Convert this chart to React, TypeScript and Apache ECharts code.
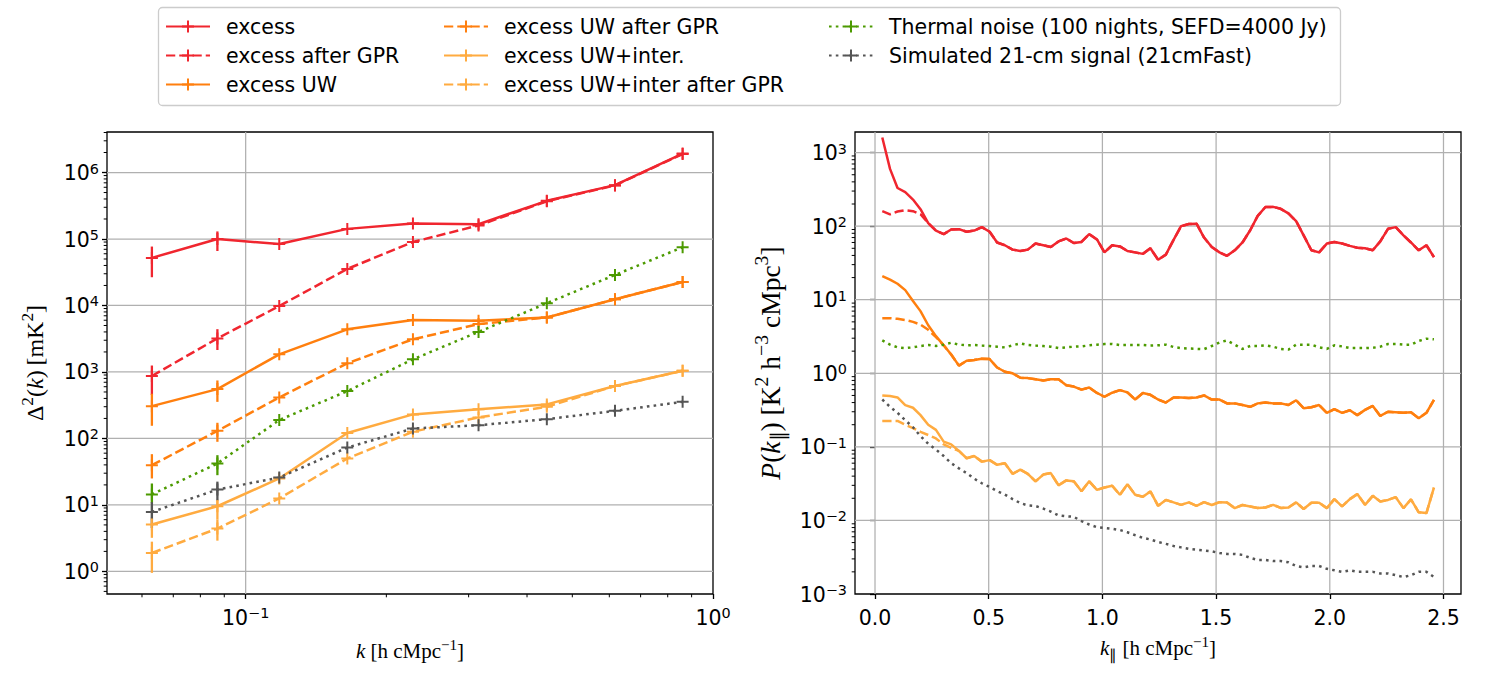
import { useEffect, useRef } from 'react';
import * as echarts from 'echarts';

// ---------- Left panel: spherically averaged Δ²(k) [mK²] ----------
const kBins = [0.063, 0.087, 0.118, 0.165, 0.228, 0.315, 0.441, 0.617, 0.861];

const deltaExcess = [52000, 100000, 84000, 142000, 171000, 167000, 375000, 646000, 1930000];
const deltaExcessGPR = [870, 3200, 9800, 35500, 90000, 160000, 370000, 640000, 1900000];
const deltaExcessUW = [306, 552, 1840, 4380, 6050, 5900, 6600, 12400, 22600];
const deltaExcessUWGPR = [39.6, 130, 414, 1350, 3100, 5260, 6600, 12400, 22600];
const deltaUWInter = [5.07, 9.55, 25, 121, 230, 274, 325, 614, 1040];
const deltaUWInterGPR = [1.89, 4.4, 12.5, 50, 126, 207, 300, 614, 1040];
const deltaThermal = [14.4, 42, 189, 515, 1550, 4000, 10800, 28800, 75000];
const delta21cm = [7.85, 17, 25.8, 73, 141, 158, 195, 260, 355];

// 1σ bounds (null where the bar hides behind the marker)
const N7 = [null, null, null, null, null, null, null];
const loExcess = [26600, 66000, ...N7];
const hiExcess = [77000, 130000, ...N7];
const loExcessGPR = [450, 2140, ...N7];
const hiExcessGPR = [1250, 4400, ...N7];
const loExcessUW = [155, 355, ...N7];
const hiExcessUW = [470, 745, ...N7];
const loExcessUWGPR = [25, 89, ...N7];
const hiExcessUWGPR = [58, 172, ...N7];
const loUWInter = [3.2, 6, ...N7];
const hiUWInter = [6.5, 12, ...N7];
const loUWInterGPR = [0.95, 2.9, ...N7];
const hiUWInterGPR = [2.8, 6, ...N7];
const loThermal = [10.5, 28, ...N7];
const hiThermal = [21, 56, ...N7];
const lo21cm = [4.5, 11.7, ...N7];
const hi21cm = [11, 22.4, ...N7];

// ---------- Right panel: P(k∥) [K² h⁻³ cMpc³] ----------
const kPar = [
  0.032, 0.066, 0.099, 0.133, 0.167, 0.2, 0.234, 0.268, 0.302, 0.335,
  0.369, 0.403, 0.436, 0.47, 0.504, 0.537, 0.571, 0.605, 0.639, 0.672,
  0.706, 0.74, 0.773, 0.807, 0.841, 0.874, 0.908, 0.942, 0.976, 1.009,
  1.043, 1.077, 1.11, 1.144, 1.178, 1.211, 1.245, 1.279, 1.313, 1.346,
  1.38, 1.414, 1.447, 1.481, 1.515, 1.548, 1.582, 1.616, 1.65, 1.683,
  1.717, 1.751, 1.784, 1.818, 1.852, 1.885, 1.919, 1.953, 1.987, 2.02,
  2.054, 2.088, 2.121, 2.155, 2.189, 2.222, 2.256, 2.29, 2.324, 2.357,
  2.391, 2.425, 2.458,
];

const pExcess = [
  1600, 600, 330, 290, 230, 170, 110, 87, 78, 90,
  91, 84, 87, 97, 84, 60, 55, 48, 46, 48,
  58, 55, 52, 62, 68, 59, 61, 78, 66, 44,
  55, 53, 46, 44, 42, 50, 35, 41, 65, 100,
  107, 108, 70, 52, 44, 39.5, 47, 60, 88, 138,
  182, 183, 172, 149, 117, 75, 47, 44, 58, 61,
  58, 54, 51, 50, 47, 62, 92, 97, 75, 60,
  47, 55, 38,
];
// after GPR the curve differs only at the lowest k
const pExcessGPRLow = [160, 145, 158, 165, 160, 145, 110];
const pExcessGPR = [...pExcessGPRLow, ...pExcess.slice(pExcessGPRLow.length)];

const pExcessUW = [
  21, 18.8, 16.5, 13.5, 9.6, 7.0, 4.5, 3.2, 2.4, 1.8,
  1.27, 1.48, 1.52, 1.58, 1.56, 1.2, 1.05, 1.0, 0.87, 0.86,
  0.83, 0.8, 0.83, 0.83, 0.69, 0.66, 0.6, 0.64, 0.54, 0.48,
  0.545, 0.59, 0.55, 0.44, 0.54, 0.51, 0.44, 0.4, 0.47, 0.47,
  0.46, 0.47, 0.5, 0.44, 0.44, 0.39, 0.39, 0.37, 0.35, 0.39,
  0.4, 0.39, 0.39, 0.37, 0.43, 0.335, 0.345, 0.37, 0.29, 0.325,
  0.29, 0.315, 0.27, 0.318, 0.36, 0.263, 0.3, 0.295, 0.29, 0.295,
  0.245, 0.29, 0.435,
];
const pExcessUWGPRLow = [5.6, 5.6, 5.5, 5.3, 5.0, 4.6, 3.9, 3.1];
const pExcessUWGPR = [...pExcessUWGPRLow, ...pExcessUW.slice(pExcessUWGPRLow.length)];

const pUWInter = [
  0.5, 0.49, 0.47, 0.37, 0.34, 0.27, 0.2, 0.17, 0.118, 0.108,
  0.088, 0.07, 0.075, 0.063, 0.066, 0.057, 0.06, 0.043, 0.049, 0.043,
  0.034, 0.042, 0.044, 0.03, 0.035, 0.034, 0.025, 0.034, 0.026, 0.028,
  0.0296, 0.0223, 0.031, 0.0223, 0.021, 0.0248, 0.0158, 0.019, 0.0176, 0.0163,
  0.0176, 0.0158, 0.0177, 0.0162, 0.0177, 0.0175, 0.0147, 0.0162, 0.0155, 0.0148,
  0.015, 0.0163, 0.0148, 0.015, 0.0176, 0.0143, 0.0174, 0.0174, 0.0147, 0.0195,
  0.0155, 0.0195, 0.0228, 0.0163, 0.0216, 0.0181, 0.019, 0.0207, 0.0147, 0.0193,
  0.0129, 0.0126, 0.028,
];
const pUWInterGPRLow = [0.225, 0.225, 0.225, 0.2, 0.18, 0.16, 0.145, 0.13, 0.108, 0.097];
const pUWInterGPR = [...pUWInterGPRLow, ...pUWInter.slice(pUWInterGPRLow.length)];

const pThermal = [
  2.8, 2.45, 2.25, 2.2, 2.25, 2.35, 2.42, 2.35, 2.45, 2.6,
  2.45, 2.4, 2.42, 2.38, 2.35, 2.3, 2.25, 2.4, 2.55, 2.42,
  2.38, 2.35, 2.3, 2.2, 2.25, 2.3, 2.32, 2.4, 2.45, 2.5,
  2.5, 2.42, 2.42, 2.42, 2.42, 2.38, 2.4, 2.45, 2.28, 2.2,
  2.17, 2.15, 2.13, 2.35, 2.63, 2.8, 2.45, 2.14, 2.35, 2.35,
  2.4, 2.3, 2.14, 2.1, 2.45, 2.45, 2.45, 2.25, 2.14, 2.4,
  2.32, 2.2, 2.2, 2.2, 2.22, 2.3, 2.5, 2.5, 2.45, 2.45,
  2.75, 2.95, 2.9,
];

const p21cm = [
  0.44, 0.35, 0.29, 0.23, 0.185, 0.14, 0.11, 0.092, 0.075, 0.06,
  0.051, 0.044, 0.037, 0.032, 0.0285, 0.025, 0.0225, 0.0195, 0.0172, 0.016,
  0.0157, 0.0145, 0.0132, 0.0117, 0.0114, 0.0112, 0.0098, 0.0088, 0.0081, 0.0079,
  0.0077, 0.0074, 0.0069, 0.0063, 0.0058, 0.0055, 0.0051, 0.0048, 0.0045, 0.0043,
  0.0041, 0.004, 0.0039, 0.0038, 0.0036, 0.0035, 0.0035, 0.0034, 0.0031, 0.0029,
  0.0029, 0.0028, 0.0028, 0.0027, 0.0024, 0.0023, 0.0024, 0.0024, 0.0022, 0.0021,
  0.002, 0.0021, 0.002, 0.002, 0.002, 0.0019, 0.0019, 0.0018, 0.0017, 0.0018,
  0.002, 0.002, 0.0017,
];

// ---------- axis ticks ----------
const leftXMajor = [0.1, 1];
const leftYMajor = [1, 10, 100, 1e3, 1e4, 1e5, 1e6];
const rightXMajor = [0, 0.5, 1, 1.5, 2, 2.5];
const rightYMajor = [1e-3, 1e-2, 1e-1, 1, 10, 100, 1e3];

const LEFT_X = [0.0505, 1];
const LEFT_Y = [0.457, 4.07e6];
const RIGHT_X = [-0.088, 2.577];
const RIGHT_Y = [1e-3, 1905];

// minor ticks at 2..9 × 10^n inside an axis range
function logMinors(lo: number, hi: number) {
  const out: number[] = [];
  for (let n = Math.floor(Math.log10(lo)); n <= Math.ceil(Math.log10(hi)); n++) {
    for (let m = 2; m <= 9; m++) {
      const v = m * Math.pow(10, n);
      if (v > lo && v < hi) out.push(v);
    }
  }
  return out;
}

// ---------- styles ----------
const RED = '#f0262f';
const ORANGE = '#ff7f0e';
const LIGHT_ORANGE = '#ffab40';
const GREEN = '#4c9a00';
const GREY = '#555555';
const SOLID = 'solid';
const DASHED = [9.25, 4];
const DOTTED = [2.6, 4.2];
const PLUS = 'path://M-1,-6L1,-6L1,-1L6,-1L6,1L1,1L1,6L-1,6L-1,1L-6,1L-6,-1L-1,-1Z';

const NAMES = {
  excess: 'excess',
  excessGPR: 'excess after GPR',
  uw: 'excess UW',
  uwGPR: 'excess UW after GPR',
  uwInter: 'excess UW+inter.',
  uwInterGPR: 'excess UW+inter after GPR',
  thermal: 'Thermal noise (100 nights, SEFD=4000 Jy)',
  sig: 'Simulated 21-cm signal (21cmFast)',
};

const leftDefs = [
  { name: NAMES.excess, color: RED, dash: SOLID, values: deltaExcess, lo: loExcess, hi: hiExcess },
  { name: NAMES.excessGPR, color: RED, dash: DASHED, values: deltaExcessGPR, lo: loExcessGPR, hi: hiExcessGPR },
  { name: NAMES.uw, color: ORANGE, dash: SOLID, values: deltaExcessUW, lo: loExcessUW, hi: hiExcessUW },
  { name: NAMES.uwGPR, color: ORANGE, dash: DASHED, values: deltaExcessUWGPR, lo: loExcessUWGPR, hi: hiExcessUWGPR },
  { name: NAMES.uwInter, color: LIGHT_ORANGE, dash: SOLID, values: deltaUWInter, lo: loUWInter, hi: hiUWInter },
  { name: NAMES.uwInterGPR, color: LIGHT_ORANGE, dash: DASHED, values: deltaUWInterGPR, lo: loUWInterGPR, hi: hiUWInterGPR },
  { name: NAMES.thermal, color: GREEN, dash: DOTTED, values: deltaThermal, lo: loThermal, hi: hiThermal },
  { name: NAMES.sig, color: GREY, dash: DOTTED, values: delta21cm, lo: lo21cm, hi: hi21cm },
];

const rightDefs = [
  { name: NAMES.excess, color: RED, dash: SOLID, values: pExcess },
  { name: NAMES.excessGPR, color: RED, dash: DASHED, values: pExcessGPR },
  { name: NAMES.uw, color: ORANGE, dash: SOLID, values: pExcessUW },
  { name: NAMES.uwGPR, color: ORANGE, dash: DASHED, values: pExcessUWGPR },
  { name: NAMES.uwInter, color: LIGHT_ORANGE, dash: SOLID, values: pUWInter },
  { name: NAMES.uwInterGPR, color: LIGHT_ORANGE, dash: DASHED, values: pUWInterGPR },
  { name: NAMES.thermal, color: GREEN, dash: DOTTED, values: pThermal },
  { name: NAMES.sig, color: GREY, dash: DOTTED, values: p21cm },
];

const SANS = 'DejaVu Sans';
const SERIF = 'Liberation Serif';
const TICK_FONT = 20.5;

const tickRich = {
  b: { fontFamily: SANS, fontSize: TICK_FONT, color: '#000', verticalAlign: 'bottom' },
  s: { fontFamily: SANS, fontSize: 14.4, color: '#000', verticalAlign: 'bottom', padding: [0, 0, 8, 0] },
};

function mathRich(size: number) {
  const sub = Math.round(size * 0.72 * 10) / 10;
  const base = { fontFamily: SERIF, color: '#000', verticalAlign: 'bottom' };
  return {
    r: { ...base, fontSize: size, padding: [0, 0, 4, 0] },
    i: { ...base, fontSize: size, fontStyle: 'italic', padding: [0, 0, 4, 0] },
    sup: { ...base, fontSize: sub, padding: [0, 0, Math.round(size * 0.62), 0] },
    sub: { ...base, fontSize: sub, padding: [0, 0, 0, 0] },
  };
}

const MINUS = '\u2212';
const pow10Label = (v: number) => {
  const e = Math.round(Math.log10(v));
  return `{b|10}{s|${e < 0 ? MINUS + -e : e}}`;
};

const GRID_LINE = { stroke: '#b0b0b0', lineWidth: 1.25 };
const MINOR_TICK = { stroke: '#000', lineWidth: 1 };

// grid lines (kind 0: vertical, 1: horizontal) and minor ticks (kind 2: bottom, 3: left)
function frameSeries(
  idx: number,
  xGrid: number[],
  yGrid: number[],
  xMinor: number[],
  yMinor: number[],
  xRef: number,
  yRef: number,
) {
  const rows: number[][] = [];
  xGrid.forEach((v) => rows.push([v, yRef, 0]));
  yGrid.forEach((v) => rows.push([xRef, v, 1]));
  xMinor.forEach((v) => rows.push([v, yRef, 2]));
  yMinor.forEach((v) => rows.push([xRef, v, 3]));
  return {
    type: 'custom',
    name: `axes-${idx}`,
    xAxisIndex: idx,
    yAxisIndex: idx,
    silent: true,
    data: rows,
    encode: { x: 0, y: 1 },
    renderItem: (params: any, api: any) => {
      const cs = params.coordSys;
      const kind = api.value(2);
      const p = api.coord([api.value(0), api.value(1)]);
      const bottom = cs.y + cs.height;
      if (kind === 0) {
        return { type: 'line', shape: { x1: p[0], y1: cs.y, x2: p[0], y2: bottom }, style: GRID_LINE };
      }
      if (kind === 1) {
        return { type: 'line', shape: { x1: cs.x, y1: p[1], x2: cs.x + cs.width, y2: p[1] }, style: GRID_LINE };
      }
      if (kind === 2) {
        return { type: 'line', shape: { x1: p[0], y1: bottom, x2: p[0], y2: bottom + 3.3 }, style: MINOR_TICK };
      }
      return { type: 'line', shape: { x1: cs.x - 3.3, y1: p[1], x2: cs.x, y2: p[1] }, style: MINOR_TICK };
    },
  };
}

function errorBars(def: any) {
  const rows: number[][] = [];
  kBins.forEach((k, i) => {
    if (def.lo[i] != null) rows.push([k, def.lo[i], def.hi[i]]);
  });
  return {
    type: 'custom',
    name: `${def.name} σ`,
    xAxisIndex: 0,
    yAxisIndex: 0,
    silent: true,
    data: rows,
    encode: { x: 0, y: [1, 2] },
    renderItem: (_params: any, api: any) => {
      const a = api.coord([api.value(0), api.value(1)]);
      const b = api.coord([api.value(0), api.value(2)]);
      return {
        type: 'line',
        shape: { x1: a[0], y1: a[1], x2: b[0], y2: b[1] },
        style: { stroke: def.color, lineWidth: 2.3 },
      };
    },
  };
}

function buildOption() {
  const series: any[] = [
    frameSeries(0, [0.1], leftYMajor, logMinors(LEFT_X[0], LEFT_X[1]), logMinors(LEFT_Y[0], LEFT_Y[1]), 0.1, 1),
    frameSeries(1, rightXMajor, rightYMajor.slice(1), [], logMinors(RIGHT_Y[0], RIGHT_Y[1]), 1, 1),
  ];

  leftDefs.forEach((def) => {
    series.push(errorBars(def));
    series.push({
      type: 'line',
      name: def.name,
      xAxisIndex: 0,
      yAxisIndex: 0,
      data: kBins.map((k, i) => [k, def.values[i]]),
      symbol: PLUS,
      symbolSize: 12,
      showSymbol: true,
      lineStyle: { color: def.color, width: 2.5, type: def.dash },
      itemStyle: { color: def.color },
      emphasis: { disabled: true },
      silent: true,
      clip: true,
    });
  });

  rightDefs.forEach((def) => {
    series.push({
      type: 'line',
      name: def.name,
      xAxisIndex: 1,
      yAxisIndex: 1,
      data: kPar.map((k, i) => [k, def.values[i]]),
      symbol: 'none',
      showSymbol: false,
      lineStyle: { color: def.color, width: 2.5, type: def.dash },
      itemStyle: { color: def.color },
      emphasis: { disabled: true },
      silent: true,
      clip: true,
    });
  });

  const majorTick = (values: number[]) => ({
    show: true,
    length: 5,
    customValues: values,
    lineStyle: { color: '#000', width: 1.3 },
  });

  const legendBase = {
    orient: 'vertical',
    align: 'left',
    top: 16,
    padding: 0,
    itemWidth: 44,
    itemHeight: 15,
    itemGap: 8,
    selectedMode: false,
    textStyle: { fontFamily: SANS, fontSize: 20.5, color: '#000', lineHeight: 18, padding: [0, 0, 0, 11] },
    z: 5,
  };

  return {
    animation: false,
    backgroundColor: '#ffffff',
    graphic: [
      {
        type: 'rect',
        z: 1,
        silent: true,
        shape: { x: 158.5, y: 7.5, width: 1182, height: 98, r: 4 },
        style: { fill: 'rgba(255,255,255,0.8)', stroke: '#cccccc', lineWidth: 1.3 },
      },
    ],
    legend: [
      { ...legendBase, left: 165, data: [NAMES.excess, NAMES.excessGPR, NAMES.uw] },
      { ...legendBase, left: 443, data: [NAMES.uwGPR, NAMES.uwInter, NAMES.uwInterGPR] },
      { ...legendBase, left: 828, data: [NAMES.thermal, NAMES.sig] },
    ],
    grid: [
      { left: 107, top: 132, width: 606, height: 462, show: true, borderColor: '#000', borderWidth: 1.3, containLabel: false },
      { left: 855, top: 132, width: 606, height: 462, show: true, borderColor: '#000', borderWidth: 1.3, containLabel: false },
    ],
    xAxis: [
      {
        type: 'log',
        logBase: 10,
        gridIndex: 0,
        min: LEFT_X[0],
        max: LEFT_X[1],
        axisLine: { show: false },
        axisTick: majorTick(leftXMajor),
        axisLabel: { customValues: leftXMajor, formatter: pow10Label, rich: tickRich, margin: 12 },
        splitLine: { show: false },
        name: `{i|k}{r| [h cMpc}{sup|${MINUS}1}{r|]}`,
        nameLocation: 'middle',
        nameGap: 43,
        nameTextStyle: { rich: mathRich(21) },
      },
      {
        type: 'value',
        gridIndex: 1,
        min: RIGHT_X[0],
        max: RIGHT_X[1],
        axisLine: { show: false },
        axisTick: majorTick(rightXMajor),
        axisLabel: {
          customValues: rightXMajor,
          formatter: (v: number) => v.toFixed(1),
          fontFamily: SANS,
          fontSize: TICK_FONT,
          color: '#000',
          margin: 13,
        },
        splitLine: { show: false },
        name: `{i|k}{sub|\u2225}{r| [h cMpc}{sup|${MINUS}1}{r|]}`,
        nameLocation: 'middle',
        nameGap: 40,
        nameTextStyle: { rich: mathRich(21) },
      },
    ],
    yAxis: [
      {
        type: 'log',
        logBase: 10,
        gridIndex: 0,
        min: LEFT_Y[0],
        max: LEFT_Y[1],
        axisLine: { show: false },
        axisTick: majorTick(leftYMajor),
        axisLabel: { customValues: leftYMajor, formatter: pow10Label, rich: tickRich, margin: 8 },
        splitLine: { show: false },
        name: `{r|\u0394}{sup|2}{r|(}{i|k}{r|)\u2009[mK}{sup|2}{r|]}`,
        nameLocation: 'middle',
        nameGap: 56,
        nameTextStyle: { rich: mathRich(24) },
      },
      {
        type: 'log',
        logBase: 10,
        gridIndex: 1,
        min: RIGHT_Y[0],
        max: RIGHT_Y[1],
        axisLine: { show: false },
        axisTick: majorTick(rightYMajor),
        axisLabel: { customValues: rightYMajor, formatter: pow10Label, rich: tickRich, margin: 8 },
        splitLine: { show: false },
        name: `{i|P}{r|(}{i|k}{sub|\u2225}{r|) [K}{sup|2}{r| h}{sup|${MINUS}3}{r| cMpc}{sup|3}{r|]}`,
        nameLocation: 'middle',
        nameGap: 67,
        nameTextStyle: { rich: mathRich(27.5) },
      },
    ],
    series,
  };
}

export default function App() {
  const ref = useRef<HTMLDivElement>(null);
  useEffect(() => {
    if (!ref.current) return;
    const chart = echarts.init(ref.current, null, { renderer: 'svg' });
    chart.setOption(buildOption() as any);
    return () => chart.dispose();
  }, []);
  return (
    <div
      ref={ref}
      style={{ position: 'fixed', left: 0, top: 0, width: 1491, height: 689, background: '#fff' }}
    />
  );
}
